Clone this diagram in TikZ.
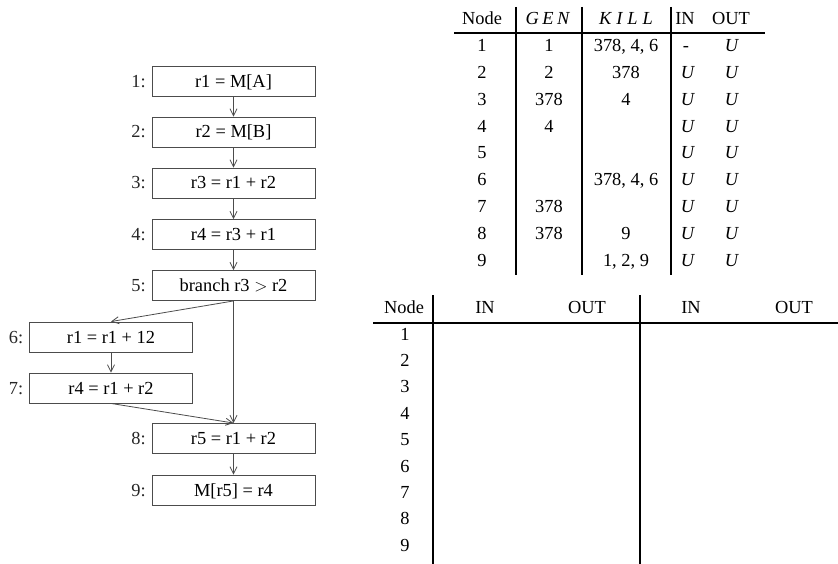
\documentclass[tikz,border=0pt]{standalone}
\usepackage{fontspec}
\setmainfont{Liberation Serif}
\usetikzlibrary{arrows.meta}
\newcommand{\mGEN}{\textit{G\kern3.5pt E\kern3.5pt N}}
\newcommand{\mKILL}{\textit{K\kern5pt I\kern5pt L\kern5pt L}}
\newcommand{\mU}{\textit{U}}
\begin{document}
\begin{tikzpicture}[x=1pt,y=-1pt,
  every node/.style={font=\fontsize{18.4}{22}\selectfont},
  blk/.style={draw=black!70, line width=0.9pt, minimum width=163pt, minimum height=30pt,
              inner sep=0pt, text height=12pt, text depth=0pt},
  lbl/.style={anchor=base east, inner sep=0pt, text=black!85},
  flow/.style={draw=black!70, line width=0.8pt, -{Straight Barb[length=7pt,width=7pt]}},
  cell/.style={anchor=base, inner sep=0pt},
  tline/.style={line width=1.1pt},
]
\useasboundingbox (0,0) rectangle (838,564);

% ---------- flow graph ----------
\node[blk] (b1) at (233.5,81.5) {r1 = M[A]};
\node[blk] (b2) at (233.5,132) {r2 = M[B]};
\node[blk] (b3) at (233.5,183) {r3 = r1 + r2};
\node[blk] (b4) at (233.5,234.5) {r4 = r3 + r1};
\node[blk] (b5) at (233.5,285.5) {branch r3 $>$ r2};
\node[blk] (b6) at (111,337) {r1 = r1 + 12};
\node[blk] (b7) at (111,388) {r4 = r1 + r2};
\node[blk] (b8) at (233.5,438.5) {r5 = r1 + r2};
\node[blk] (b9) at (233.5,490) {M[r5] = r4};

\node[lbl] (l1) at (146,87.5) {1:};
\node[lbl] (l2) at (146,138) {2:};
\node[lbl] (l3) at (146,189) {3:};
\node[lbl] (l4) at (146,240.5) {4:};
\node[lbl] (l5) at (146,291.5) {5:};
\node[lbl] (l6) at (23.5,343) {6:};
\node[lbl] (l7) at (23.5,394) {7:};
\node[lbl] (l8) at (146,444.5) {8:};
\node[lbl] (l9) at (146,496) {9:};

\draw[flow] (b1.south) -- (b2.north);
\draw[flow] (b2.south) -- (b3.north);
\draw[flow] (b3.south) -- (b4.north);
\draw[flow] (b4.south) -- (b5.north);
\draw[flow] (b5.south) -- (b6.north);
\draw[flow] (b5.south) -- (b8.north);
\draw[flow] (b6.south) -- (b7.north);
\draw[flow] (b7.south) -- (b8.north);
\draw[flow] (b8.south) -- (b9.north);

% ---------- top table ----------
\draw[tline] (516,7) -- (516,275);
\draw[tline] (582,7) -- (582,275);
\draw[tline] (671,7) -- (671,275);
\draw[tline] (454,33) -- (765,33);
\node[cell] (hNode) at (482,25) {Node};
\node[cell] (hGEN) at (548,25) {\mGEN};
\node[cell] (hKILL) at (626,25) {\mKILL};
\node[cell] (hIN) at (685,25) {IN};
\node[cell] (hOUT) at (731,25) {OUT};
\foreach \r in {1,...,9}{
  \pgfmathsetmacro{\yy}{52+(\r-1)*26.75}
  \node[cell] (n\r) at (482,\yy) {\r};
  \node[cell] (o\r) at (732,\yy) {\mU};
}
\foreach \r in {2,...,9}{
  \pgfmathsetmacro{\yy}{52+(\r-1)*26.75}
  \node[cell] (i\r) at (688,\yy) {\mU};
}
\node[cell] (i1) at (686,52) {-};
\node[cell] (g1) at (549,52) {1};
\node[cell] (g2) at (549,78.75) {2};
\node[cell] (g3) at (549,105.5) {378};
\node[cell] (g4) at (549,132.25) {4};
\node[cell] (g7) at (549,212.5) {378};
\node[cell] (g8) at (549,239.25) {378};
\node[cell] (k1) at (626,52) {378, 4, 6};
\node[cell] (k2) at (626,78.75) {378};
\node[cell] (k3) at (626,105.5) {4};
\node[cell] (k6) at (626,185.75) {378, 4, 6};
\node[cell] (k8) at (626,239.25) {9};
\node[cell] (k9) at (626,266) {1, 2, 9};

% ---------- bottom table ----------
\draw[tline] (433,295) -- (433,564);
\draw[tline] (640,295) -- (640,564);
\draw[tline] (373,323) -- (838,323);
\node[cell] (HNode) at (404,313) {Node};
\node[cell] (HIN1) at (485,313) {IN};
\node[cell] (HOUT1) at (587,313) {OUT};
\node[cell] (HIN2) at (691,313) {IN};
\node[cell] (HOUT2) at (794,313) {OUT};
\foreach \r in {1,...,9}{
  \pgfmathsetmacro{\yy}{340+(\r-1)*26.4}
  \node[cell] (N\r) at (405,\yy) {\r};
}
\end{tikzpicture}
\end{document}
